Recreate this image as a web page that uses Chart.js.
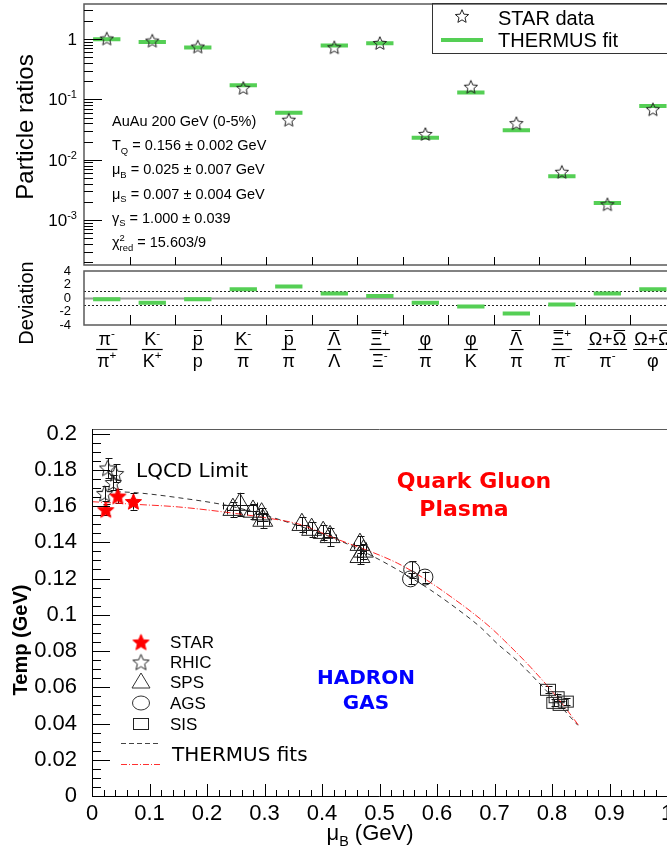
<!DOCTYPE html>
<html>
<head>
<meta charset="utf-8">
<script src="https://cdn.jsdelivr.net/npm/chart.js@4.4.1/dist/chart.umd.min.js"></script>
<style>
  html, body { margin: 0; padding: 0; background: #fff; }
  #wrap { position: relative; width: 667px; height: 854px; overflow: hidden; }
  canvas { position: absolute; left: 0; }
</style>
</head>
<body>
<div id="wrap">
  <canvas id="ratios" width="667" height="268" style="top:0"></canvas>
  <canvas id="deviation" width="667" height="120" style="top:258px"></canvas>
  <canvas id="phase" width="667" height="434" style="top:420px"></canvas>
</div>
<script>
// ---- top panel: particle ratios, STAR data vs THERMUS fit
const catNum = ["π^{-}", "K^{-}", "#bar{p}", "K^{-}", "#bar{p}", "#bar{Λ}", "#bar{Ξ}^{+}", "φ", "φ", "#bar{Λ}", "#bar{Ξ}^{+}", "Ω+#bar{Ω}", "Ω+#bar{Ω}"];
const catDen = ["π^{+}", "K^{+}", "p", "π", "π", "Λ", "Ξ^{-}", "π", "K", "π", "π^{-}", "π^{-}", "φ"];
const starRatio = [1.02, 0.94, 0.75, 0.155, 0.046, 0.73, 0.86, 0.0267, 0.162, 0.0404, 0.0063, 0.00183, 0.0686];
const fitRatio = [0.99, 0.89, 0.72, 0.172, 0.0597, 0.78, 0.85, 0.0232, 0.130, 0.0307, 0.0053, 0.00192, 0.0778];
const deviation = [-0.2, -0.7, -0.2, 1.3, 1.7, 0.65, 0.3, -0.7, -1.25, -2.3, -0.95, 0.65, 1.3];
const ratioTicks = [1, 0.1, 0.01, 0.001];
const ratioTickLabels = ["1", "10^{-1}", "10^{-2}", "10^{-3}"];
const devTicks = [-4, -2, 0, 2, 4];
const fitInfo = ["AuAu 200 GeV (0-5%)", "T_{Q} = 0.156 ± 0.002 GeV", "μ_{B} = 0.025 ± 0.007 GeV",
  "μ_{S} = 0.007 ± 0.004 GeV", "γ_{S} = 1.000 ± 0.039", "χ^{2}_{red} = 15.603/9"];

// ---- bottom panel: freeze-out temperature vs baryon chemical potential
const starMuB = [0.024, 0.045, 0.072];
const starTemp = [0.158, 0.1655, 0.1625];
const starTempErr = [0.003, 0.004, 0.0045];
const rhicMuB = [0.022, 0.027, 0.037, 0.041];
const rhicTemp = [0.167, 0.181, 0.173, 0.178];
const rhicTempErr = [0.004, 0.0055, 0.004, 0.005];
const spsMuB = [0.245, 0.257, 0.280, 0.297, 0.295, 0.365, 0.382, 0.402, 0.414, 0.466, 0.466, 0.472];
const spsTemp = [0.158, 0.1608, 0.157, 0.152, 0.1555, 0.1497, 0.147, 0.1453, 0.143, 0.1387, 0.132, 0.135];
const spsTempErr = [0.004, 0.0065, 0.004, 0.004, 0.0035, 0.004, 0.004, 0.004, 0.005, 0.0045, 0.004, 0.004];
const spsMuBErr = [0.01, 0.03, 0.01, 0.01, 0.01, 0.01, 0.01, 0.01, 0.01, 0.01, 0.005, 0.005];
const agsMuB = [0.556, 0.554, 0.579];
const agsTemp = [0.1249, 0.1198, 0.1208];
const agsTempErr = [0.0045, 0.003, 0.003];
const sisMuB = [0.793, 0.808, 0.815, 0.824, 0.804];
const sisTemp = [0.0586, 0.0545, 0.0503, 0.0521, 0.0514];
const sisTempErr = [0.002, 0.002, 0.002, 0.002, 0.002];
const fitBlackMuB = [0.01, 0.07, 0.15, 0.24, 0.30, 0.36, 0.427, 0.49, 0.531, 0.589, 0.636, 0.676, 0.705, 0.740, 0.786, 0.845];
const fitBlackTemp = [0.168, 0.1675, 0.1646, 0.160, 0.155, 0.149, 0.1414, 0.132, 0.1249, 0.1136, 0.103, 0.093, 0.084, 0.0745, 0.0595, 0.039];
const fitRedMuB = [0.0, 0.072, 0.15, 0.247, 0.30, 0.36, 0.42, 0.531, 0.589, 0.624, 0.659, 0.693, 0.717, 0.763, 0.810, 0.847];
const fitRedTemp = [0.1624, 0.161, 0.1595, 0.156, 0.1536, 0.150, 0.1425, 0.1285, 0.1177, 0.110, 0.1018, 0.093, 0.0858, 0.071, 0.054, 0.0387];
const muTicks = [0, 0.1, 0.2, 0.3, 0.4, 0.5, 0.6, 0.7, 0.8, 0.9, 1];
const tempTicks = [0, 0.02, 0.04, 0.06, 0.08, 0.1, 0.12, 0.14, 0.16, 0.18, 0.2];
const legendNames = ["STAR", "RHIC", "SPS", "AGS", "SIS"];

const SANS = '"Liberation Sans", Arial, sans-serif';
const DEJAVU = '"DejaVu Sans", sans-serif';
const GREEN = "#55cf55";
const catMax = 12.81;
const ratioMin = 1.8e-4, ratioMax = 3.8;

Chart.defaults.font.family = SANS;

// tiny TLatex-like text: ^{} superscript, _{} subscript, #bar{} overline
function richLayout(ctx, str, size, family, weight) {
  const re = /\^\{([^}]*)\}|_\{([^}]*)\}|#bar\{([^}]*)\}|([^\^_#]+)/g;
  const parts = [];
  let m, w = 0, supX = 0, supW = 0, prev = null;
  while ((m = re.exec(str))) {
    let k = "n", t = m[4];
    if (m[1] !== undefined) { k = "sup"; t = m[1]; }
    else if (m[2] !== undefined) { k = "sub"; t = m[2]; }
    else if (m[3] !== undefined) { k = "bar"; t = m[3]; }
    const s = (k === "sup" || k === "sub") ? size * 0.65 : size;
    ctx.font = `${weight} ${s}px ${family}`;
    const tw = ctx.measureText(t).width;
    let px;
    if (k === "sub" && prev === "sup") { px = supX; w = supX + Math.max(supW, tw); }
    else { px = w; if (k === "sup") { supX = w; supW = tw; } w += tw; }
    parts.push({ k, t, s, px, tw });
    prev = k;
  }
  return { parts, w };
}

function drawRich(ctx, str, x, y, opt) {
  const size = opt.size, family = opt.family || SANS, weight = opt.weight || "normal";
  const L = richLayout(ctx, str, size, family, weight);
  let x0 = x;
  if (opt.align === "center") x0 = x - L.w / 2;
  else if (opt.align === "right") x0 = x - L.w;
  ctx.save();
  ctx.fillStyle = opt.color || "#000";
  ctx.strokeStyle = opt.color || "#000";
  ctx.textAlign = "left";
  ctx.textBaseline = "alphabetic";
  L.parts.forEach((p) => {
    ctx.font = `${weight} ${p.s}px ${family}`;
    let by = y;
    if (p.k === "sup") by = y - size * 0.42;
    if (p.k === "sub") by = y + size * 0.25;
    ctx.fillText(p.t, x0 + p.px, by);
    if (p.k === "bar") {
      const ly = Math.round(y - size * 0.85) + 0.5;
      ctx.lineWidth = 1;
      ctx.beginPath();
      ctx.moveTo(x0 + p.px + 1, ly);
      ctx.lineTo(x0 + p.px + p.tw - 1, ly);
      ctx.stroke();
    }
  });
  ctx.restore();
  return L.w;
}

function drawRotated(ctx, str, x, cy, opt) {
  ctx.save();
  ctx.translate(x, cy);
  ctx.rotate(-Math.PI / 2);
  drawRich(ctx, str, 0, 0, Object.assign({ align: "center" }, opt));
  ctx.restore();
}

function makeStar(R, fill, stroke) {
  const c = document.createElement("canvas");
  const s = Math.ceil(2 * R + 4);
  c.width = s; c.height = s;
  const g = c.getContext("2d");
  g.translate(s / 2, s / 2 + R * 0.1);
  g.beginPath();
  for (let k = 0; k < 10; k++) {
    const r = k % 2 ? R * 0.45 : R;
    const a = -Math.PI / 2 + k * Math.PI / 5;
    g.lineTo(r * Math.cos(a), r * Math.sin(a));
  }
  g.closePath();
  if (fill) { g.fillStyle = fill; g.fill(); }
  if (stroke) { g.strokeStyle = stroke; g.lineWidth = 1; g.stroke(); }
  return c;
}

function makeBox(w, h) {
  const c = document.createElement("canvas");
  c.width = w + 2; c.height = h + 2;
  const g = c.getContext("2d");
  g.strokeStyle = "#222";
  g.lineWidth = 1;
  g.strokeRect(1.5, 1.5, w - 1, h - 1);
  return c;
}

const openStarSmall = makeStar(7, null, "#222");
const openStar = makeStar(8.5, null, "#222");
const redStar = makeStar(8.5, "#ff0000", "#ff0000");
const sisBox = makeBox(16, 12);

// horizontal fit segments with a gap between categories
function segments(values) {
  const pts = [];
  values.forEach((v, i) => {
    pts.push({ x: i + 0.2, y: v }, { x: i + 0.8, y: v }, { x: i + 0.9, y: null });
  });
  return pts;
}

function baseOptions() {
  return {
    responsive: false,
    animation: false,
    devicePixelRatio: 1,
    events: [],
    plugins: { legend: { display: false }, tooltip: { enabled: false } },
  };
}

function frame(ctx, a) {
  ctx.save();
  ctx.strokeStyle = "#5a5a5a";
  ctx.lineWidth = 1.5;
  ctx.strokeRect(a.left, a.top, a.right - a.left + 10, a.bottom - a.top);
  ctx.restore();
}

function categoryTicks(ctx, chart, len) {
  const a = chart.chartArea, xs = chart.scales.x;
  ctx.save();
  ctx.strokeStyle = "#000";
  ctx.lineWidth = 1;
  for (let i = 1; i < catNum.length; i++) {
    const px = Math.round(xs.getPixelForValue(i)) + 0.5;
    ctx.beginPath();
    ctx.moveTo(px, a.bottom);
    ctx.lineTo(px, a.bottom - len);
    ctx.stroke();
  }
  ctx.restore();
}

// ---------------- ratios chart
const ratioDecor = {
  id: "ratioDecor",
  afterDraw(chart) {
    const ctx = chart.ctx, a = chart.chartArea, ys = chart.scales.y;
    frame(ctx, a);
    ctx.save();
    ctx.strokeStyle = "#000";
    ctx.lineWidth = 1;
    for (let d = -4; d <= 0; d++) {
      for (let k = 1; k <= 9; k++) {
        const v = k * Math.pow(10, d);
        if (v < ratioMin || v > ratioMax) continue;
        const py = Math.round(ys.getPixelForValue(v)) + 0.5;
        ctx.beginPath();
        ctx.moveTo(a.left, py);
        ctx.lineTo(a.left + (k === 1 ? 18 : 9), py);
        ctx.stroke();
      }
    }
    ctx.restore();
    categoryTicks(ctx, chart, 8);

    ratioTicks.forEach((v, i) => {
      drawRich(ctx, ratioTickLabels[i], a.left - 7, ys.getPixelForValue(v) + 6, { size: 17, align: "right" });
    });
    drawRotated(ctx, "Particle ratios", 33, 127, { size: 24 });

    fitInfo.forEach((line, i) => {
      drawRich(ctx, line, 112, 126 + i * 24.2, { size: 14.5 });
    });

    // legend box
    ctx.save();
    ctx.strokeStyle = "#333";
    ctx.lineWidth = 1;
    ctx.strokeRect(432.5, 3.5, 300, 50);
    ctx.drawImage(openStarSmall, 462 - openStarSmall.width / 2, 16 - openStarSmall.height / 2);
    ctx.strokeStyle = GREEN;
    ctx.lineWidth = 4;
    ctx.beginPath();
    ctx.moveTo(441, 40);
    ctx.lineTo(483, 40);
    ctx.stroke();
    ctx.restore();
    drawRich(ctx, "STAR data", 498, 25, { size: 20 });
    drawRich(ctx, "THERMUS fit", 498, 47, { size: 20 });
  },
};

new Chart(document.getElementById("ratios"), {
  type: "scatter",
  data: {
    datasets: [
      {
        data: starRatio.map((v, i) => ({ x: i + 0.5, y: v })),
        pointStyle: openStarSmall,
        pointRadius: 7,
      },
      {
        data: segments(fitRatio),
        showLine: true,
        spanGaps: false,
        borderColor: GREEN,
        borderWidth: 4,
        pointRadius: 0,
      },
    ],
  },
  options: Object.assign(baseOptions(), {
    layout: { autoPadding: false, padding: { top: 4, bottom: 3, left: 0, right: 0 } },
    scales: {
      x: { type: "linear", min: 0, max: catMax, display: false },
      y: {
        type: "logarithmic",
        min: ratioMin,
        max: ratioMax,
        grid: { display: false },
        border: { display: false },
        ticks: { display: false },
        afterFit(s) { s.width = 84; s.paddingTop = 0; s.paddingBottom = 0; },
      },
    },
  }),
  plugins: [ratioDecor],
});

// ---------------- deviation chart
const devDecor = {
  id: "devDecor",
  beforeDatasetsDraw(chart) {
    const ctx = chart.ctx, a = chart.chartArea, ys = chart.scales.y;
    ctx.save();
    const y0 = Math.round(ys.getPixelForValue(0)) + 0.5;
    ctx.strokeStyle = "#9a9a9a";
    ctx.lineWidth = 2;
    ctx.beginPath();
    ctx.moveTo(a.left, y0);
    ctx.lineTo(a.right, y0);
    ctx.stroke();
    ctx.strokeStyle = "#222";
    ctx.lineWidth = 1;
    ctx.setLineDash([2, 2]);
    [1, -1].forEach((v) => {
      const py = Math.round(ys.getPixelForValue(v)) + 0.5;
      ctx.beginPath();
      ctx.moveTo(a.left, py);
      ctx.lineTo(a.right, py);
      ctx.stroke();
    });
    ctx.restore();
  },
  afterDraw(chart) {
    const ctx = chart.ctx, a = chart.chartArea, xs = chart.scales.x;
    frame(ctx, a);
    categoryTicks(ctx, chart, 10);
    drawRotated(ctx, "Deviation", 33, 45, { size: 20 });
    const barY = a.bottom + 24;
    for (let i = 0; i < catNum.length; i++) {
      const cx = xs.getPixelForValue(i + 0.5);
      const wn = drawRich(ctx, catNum[i], cx, barY - 4, { size: 18, align: "center" });
      const wd = drawRich(ctx, catDen[i], cx, barY + 18, { size: 18, align: "center" });
      const w = Math.max(wn, wd) + 2;
      ctx.save();
      ctx.strokeStyle = "#000";
      ctx.lineWidth = 1.2;
      ctx.beginPath();
      ctx.moveTo(cx - w / 2, barY + 0.5);
      ctx.lineTo(cx + w / 2, barY + 0.5);
      ctx.stroke();
      ctx.restore();
    }
  },
};

new Chart(document.getElementById("deviation"), {
  type: "scatter",
  data: {
    datasets: [
      {
        data: segments(deviation),
        showLine: true,
        spanGaps: false,
        borderColor: GREEN,
        borderWidth: 4,
        pointRadius: 0,
      },
    ],
  },
  options: Object.assign(baseOptions(), {
    layout: { autoPadding: false, padding: { top: 13, bottom: 53, left: 0, right: 0 } },
    scales: {
      x: { type: "linear", min: 0, max: catMax, display: false },
      y: {
        type: "linear",
        min: -4,
        max: 4,
        afterBuildTicks(s) { s.ticks = devTicks.map((v) => ({ value: v })); },
        grid: { display: false },
        border: { display: false },
        ticks: { font: { size: 13, family: SANS }, color: "#000", padding: 5, autoSkip: false },
        afterFit(s) { s.width = 84; s.paddingTop = 0; s.paddingBottom = 0; },
      },
    },
  }),
  plugins: [devDecor],
});

// ---------------- phase diagram
const errorSets = [
  { mu: starMuB, t: starTemp, et: starTempErr },
  { mu: rhicMuB, t: rhicTemp, et: rhicTempErr },
  { mu: spsMuB, t: spsTemp, et: spsTempErr, emu: spsMuBErr },
  { mu: agsMuB, t: agsTemp, et: agsTempErr },
  { mu: sisMuB, t: sisTemp, et: sisTempErr },
];

function fmt(v) { return String(+v.toFixed(3)); }

const phaseDecor = {
  id: "phaseDecor",
  beforeDatasetsDraw(chart) {
    const ctx = chart.ctx, xs = chart.scales.x, ys = chart.scales.y;
    ctx.save();
    ctx.strokeStyle = "#111";
    ctx.lineWidth = 1;
    errorSets.forEach((set) => {
      set.mu.forEach((m, i) => {
        const px = Math.round(xs.getPixelForValue(m)) + 0.5;
        const y1 = ys.getPixelForValue(set.t[i] + set.et[i]);
        const y2 = ys.getPixelForValue(set.t[i] - set.et[i]);
        ctx.beginPath();
        ctx.moveTo(px, y1); ctx.lineTo(px, y2);
        ctx.moveTo(px - 3, Math.round(y1) + 0.5); ctx.lineTo(px + 4, Math.round(y1) + 0.5);
        ctx.moveTo(px - 3, Math.round(y2) + 0.5); ctx.lineTo(px + 4, Math.round(y2) + 0.5);
        if (set.emu) {
          const py = Math.round(ys.getPixelForValue(set.t[i])) + 0.5;
          const x1 = xs.getPixelForValue(m - set.emu[i]);
          const x2 = xs.getPixelForValue(m + set.emu[i]);
          ctx.moveTo(x1, py); ctx.lineTo(x2, py);
          ctx.moveTo(Math.round(x1) + 0.5, py - 3); ctx.lineTo(Math.round(x1) + 0.5, py + 4);
          ctx.moveTo(Math.round(x2) + 0.5, py - 3); ctx.lineTo(Math.round(x2) + 0.5, py + 4);
        }
        ctx.stroke();
      });
    });
    ctx.restore();
  },
  afterDraw(chart) {
    const ctx = chart.ctx, a = chart.chartArea, xs = chart.scales.x, ys = chart.scales.y;
    ctx.save();
    ctx.strokeStyle = "#5a5a5a";
    ctx.lineWidth = 1;
    ctx.beginPath();
    ctx.moveTo(a.left, a.top + 0.5);
    ctx.lineTo(a.right, a.top + 0.5);
    ctx.stroke();
    ctx.strokeStyle = "#000";
    ctx.beginPath();
    ctx.moveTo(a.left + 0.5, a.top);
    ctx.lineTo(a.left + 0.5, a.bottom);
    ctx.moveTo(a.left, a.bottom + 0.5);
    ctx.lineTo(a.right, a.bottom + 0.5);
    // inward ticks
    for (let k = 0; k <= 40; k++) {
      const v = k * 0.005;
      const py = Math.round(ys.getPixelForValue(v)) + 0.5;
      ctx.moveTo(a.left, py);
      ctx.lineTo(a.left + (k % 4 === 0 ? 18 : 9), py);
    }
    for (let k = 0; k <= 50; k++) {
      const v = k * 0.02;
      const px = Math.round(xs.getPixelForValue(v)) + 0.5;
      ctx.moveTo(px, a.bottom);
      ctx.lineTo(px, a.bottom - (k % 5 === 0 ? 12 : 6));
    }
    ctx.stroke();
    ctx.restore();

    // x tick labels
    muTicks.forEach((v) => {
      drawRich(ctx, fmt(v), xs.getPixelForValue(v), a.bottom + 24, { size: 22, align: "center" });
    });

    drawRotated(ctx, "Temp (GeV)", 27, 220, { size: 20, weight: "bold" });
    drawRich(ctx, "μ_{B} (GeV)", 370, 420, { size: 22, align: "center" });

    drawRich(ctx, "LQCD Limit", 136, 57, { size: 20, family: DEJAVU });
    drawRich(ctx, "Quark Gluon", 474, 68, { size: 22, family: DEJAVU, weight: "bold", color: "#ff0000", align: "center" });
    drawRich(ctx, "Plasma", 464, 96, { size: 22, family: DEJAVU, weight: "bold", color: "#ff0000", align: "center" });
    drawRich(ctx, "HADRON", 366, 264, { size: 20, family: DEJAVU, weight: "bold", color: "#0000ff", align: "center" });
    drawRich(ctx, "GAS", 366, 289, { size: 20, family: DEJAVU, weight: "bold", color: "#0000ff", align: "center" });

    // legend
    const lx = 141, ly = [222, 242, 262, 283, 304];
    ctx.save();
    ctx.drawImage(redStar, lx - redStar.width / 2, ly[0] - redStar.height / 2);
    ctx.drawImage(openStar, lx - openStar.width / 2, ly[1] - openStar.height / 2);
    ctx.strokeStyle = "#333";
    ctx.lineWidth = 1;
    ctx.beginPath();
    ctx.moveTo(lx, ly[2] - 9);
    ctx.lineTo(lx + 9, ly[2] + 6);
    ctx.lineTo(lx - 9, ly[2] + 6);
    ctx.closePath();
    ctx.stroke();
    ctx.beginPath();
    ctx.ellipse(lx, ly[3], 8.5, 7, 0, 0, Math.PI * 2);
    ctx.stroke();
    ctx.drawImage(sisBox, lx - sisBox.width / 2, ly[4] - sisBox.height / 2);
    ctx.strokeStyle = "#444";
    ctx.setLineDash([5, 3]);
    ctx.beginPath();
    ctx.moveTo(121, 323.5);
    ctx.lineTo(160, 323.5);
    ctx.stroke();
    ctx.strokeStyle = "#ff3030";
    ctx.setLineDash([6, 2, 1, 2]);
    ctx.beginPath();
    ctx.moveTo(121, 344.5);
    ctx.lineTo(160, 344.5);
    ctx.stroke();
    ctx.restore();
    legendNames.forEach((n, i) => drawRich(ctx, n, 170, ly[i] + 6, { size: 17 }));
    drawRich(ctx, "THERMUS fits", 172, 341, { size: 20, family: DEJAVU });
  },
};

new Chart(document.getElementById("phase"), {
  type: "scatter",
  data: {
    datasets: [
      {
        data: starMuB.map((m, i) => ({ x: m, y: starTemp[i] })),
        pointStyle: redStar,
        pointRadius: 8,
      },
      {
        data: rhicMuB.map((m, i) => ({ x: m, y: rhicTemp[i] })),
        pointStyle: openStar,
        pointRadius: 8,
      },
      {
        data: spsMuB.map((m, i) => ({ x: m, y: spsTemp[i] })),
        pointStyle: "triangle",
        pointRadius: 11.5,
        pointBorderColor: "#222",
        pointBorderWidth: 1,
        pointBackgroundColor: "rgba(0,0,0,0)",
      },
      {
        data: agsMuB.map((m, i) => ({ x: m, y: agsTemp[i] })),
        pointStyle: "circle",
        pointRadius: 8,
        pointBorderColor: "#222",
        pointBorderWidth: 1,
        pointBackgroundColor: "rgba(0,0,0,0)",
      },
      {
        data: sisMuB.map((m, i) => ({ x: m, y: sisTemp[i] })),
        pointStyle: sisBox,
        pointRadius: 8,
      },
      {
        data: fitRedMuB.map((m, i) => ({ x: m, y: fitRedTemp[i] })),
        showLine: true,
        borderColor: "rgba(255,0,0,0.85)",
        borderWidth: 1,
        borderDash: [7, 2, 1, 2],
        pointRadius: 0,
        cubicInterpolationMode: "monotone",
      },
      {
        data: fitBlackMuB.map((m, i) => ({ x: m, y: fitBlackTemp[i] })),
        showLine: true,
        borderColor: "#333",
        borderWidth: 1,
        borderDash: [5, 4],
        pointRadius: 0,
        cubicInterpolationMode: "monotone",
      },
    ],
  },
  options: Object.assign(baseOptions(), {
    layout: { autoPadding: false, padding: { top: 9, bottom: 0, left: 0, right: 0 } },
    scales: {
      x: {
        type: "linear",
        min: 0,
        max: 1,
        afterBuildTicks(s) { s.ticks = muTicks.map((v) => ({ value: v })); },
        grid: { display: false },
        border: { display: false },
        ticks: { display: false },
        afterFit(s) { s.height = 58; s.paddingLeft = 0; s.paddingRight = 0; },
      },
      y: {
        type: "linear",
        min: 0,
        max: 0.2025,
        afterBuildTicks(s) { s.ticks = tempTicks.map((v) => ({ value: v })); },
        grid: { display: false },
        border: { display: false },
        ticks: { font: { size: 22, family: SANS }, color: "#000", padding: 7, autoSkip: false, callback: (v) => fmt(v) },
        afterFit(s) { s.width = 92; s.paddingTop = 0; s.paddingBottom = 0; },
      },
    },
  }),
  plugins: [phaseDecor],
});
</script>
</body>
</html>
